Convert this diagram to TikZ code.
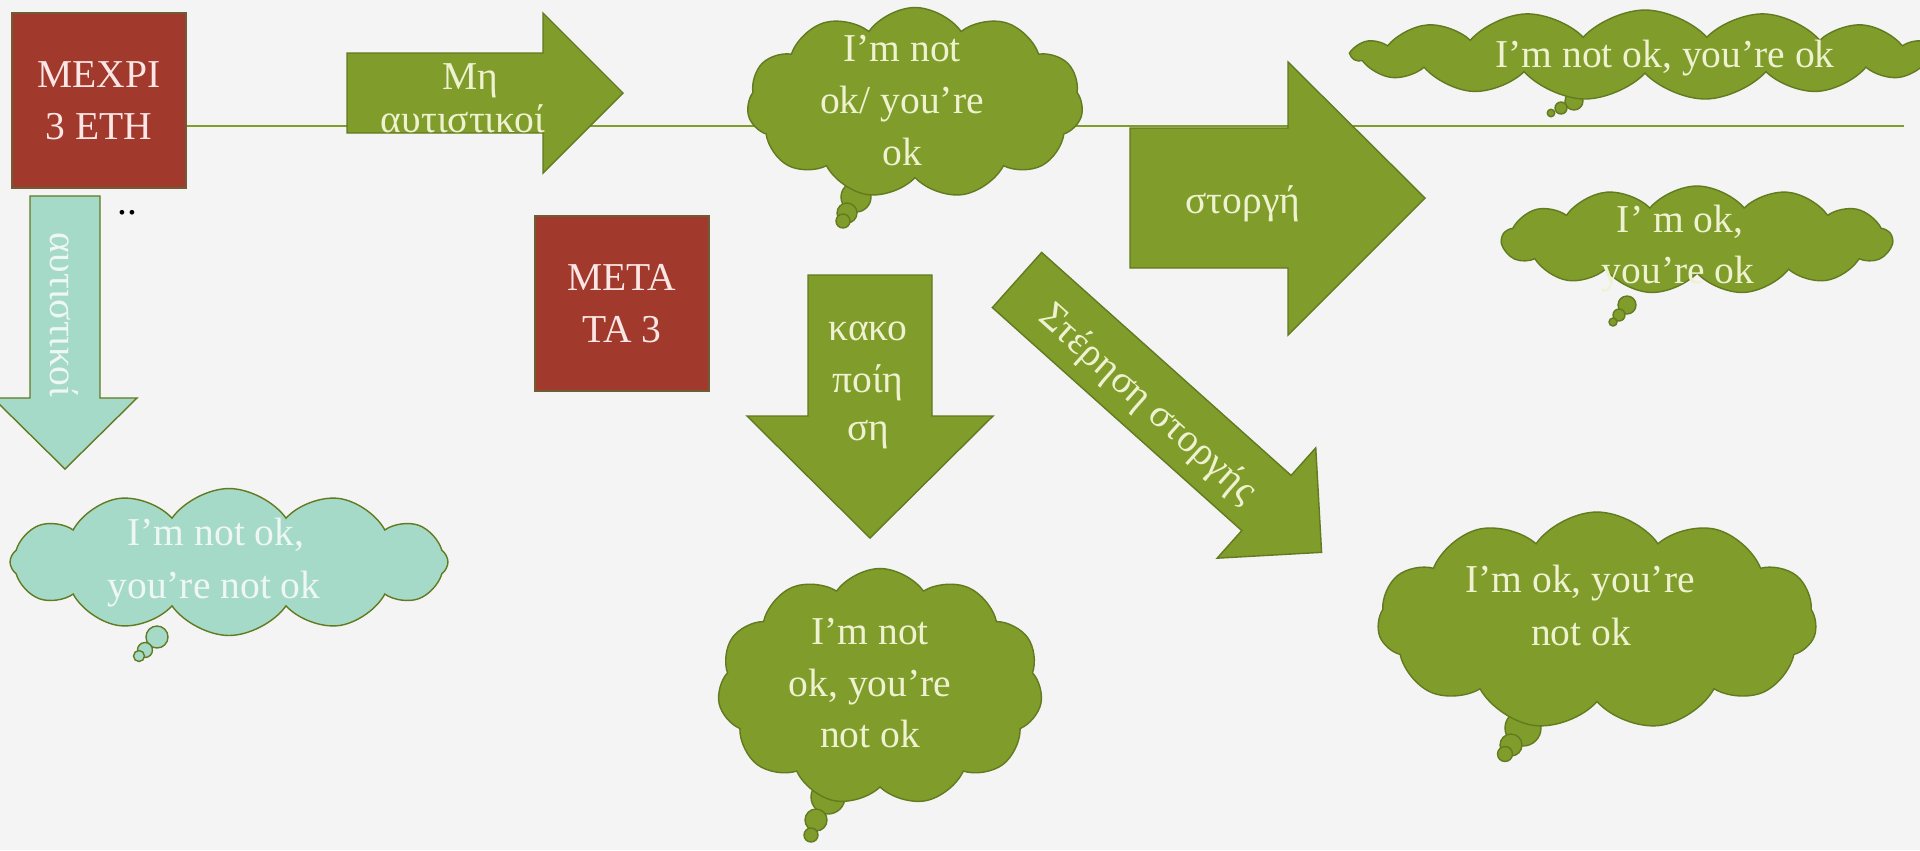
\documentclass[tikz,border=0pt]{standalone}
\usepackage{fontspec}
\setmainfont{Liberation Serif}
\usetikzlibrary{shapes.symbols}
\definecolor{olivefill}{RGB}{128,156,42}
\definecolor{olivedraw}{RGB}{98,122,32}
\definecolor{redfill}{RGB}{162,57,45}
\definecolor{reddraw}{RGB}{112,92,52}
\definecolor{tealfill}{RGB}{166,218,200}
\definecolor{bgcol}{RGB}{244,244,244}
\definecolor{paletext}{RGB}{238,242,208}
\definecolor{pinktext}{RGB}{250,230,228}
\definecolor{tealtext}{RGB}{238,247,243}
\begin{document}
\begin{tikzpicture}[x=0.02cm,y=-0.02cm,
  txt/.style={font=\fontsize{22.5}{29.5}\selectfont, align=center, inner sep=0pt},
  ln/.style={txt, anchor=base, text=paletext},
  redbox/.style={draw=reddraw, fill=redfill, line width=0.8pt, minimum width=3.48cm, minimum height=3.5cm, text=pinktext, txt},
  olivearrow/.style={fill=olivefill, draw=olivedraw, line width=0.8pt},
  tealarrow/.style={fill=tealfill, draw=olivedraw, line width=0.8pt},
  cloudshape/.style={cloud, cloud ignores aspect, cloud puffs=11, cloud puff arc=110, fill=olivefill, draw=olivedraw, line width=0.8pt, inner sep=0pt},
  bubble/.style={circle, fill=olivefill, draw=olivedraw, line width=0.8pt, inner sep=0pt, minimum size=#1},
]
\useasboundingbox (0,0) rectangle (1920,850);
\fill[bgcol] (0,0) rectangle (1920,850);

% horizontal rule
\coordinate (linestart) at (186,126);
\coordinate (lineend) at (1904,126);
\draw[olivefill, line width=1.5pt] (linestart) -- (lineend);

% red boxes
\node[redbox] (mexpi) at (99,100.5) {ΜΕΧΡΙ\\3 ΕΤΗ};
\node[redbox] (meta) at (622,303.5) {ΜΕΤΑ\\ΤΑ 3};

% teal arrow down
\path[tealarrow] (30,196) -- (100,196) -- (100,398) -- (137,398) -- (65,469) -- (-7,398) -- (30,398) -- cycle;
\node[txt, text=tealtext, rotate=-90] (aut) at (64,315) {αυτιστικοί};
\node[txt, anchor=base, text=black] (dots) at (127,214) {..};

% Mη arrow
\path[olivearrow] (347,53) -- (543,53) -- (543,13) -- (623,93) -- (543,173) -- (543,133) -- (347,133) -- cycle;
\node[ln] (mh1) at (470,89) {Μη};
\node[ln] (mh2) at (463,132) {αυτιστικοί};

% στοργή arrow
\path[olivearrow] (1130,128) -- (1288,128) -- (1288,62) -- (1425,198) -- (1288,335) -- (1288,268) -- (1130,268) -- cycle;
\node[ln] (storgi) at (1243,213) {στοργή};

% κακοποίηση arrow
\path[olivearrow] (808,275) -- (932,275) -- (932,416) -- (993,416) -- (870,538) -- (747,416) -- (808,416) -- cycle;
\node[ln] (kak1) at (868,340) {κακο};
\node[ln] (kak2) at (868,392) {ποίη};
\node[ln] (kak3) at (868,440) {ση};

% diagonal arrow
\begin{scope}[shift={(1017,280)}, rotate=-41.8]
\path[olivearrow] (0,-37) -- (334.6,-37) -- (334.6,-74) -- (408.6,0) -- (334.6,74) -- (334.6,37) -- (0,37) -- cycle;
\end{scope}
\node[txt, text=paletext, rotate=-41.8] (steri) at (1147,405) {Στέρηση στοργής};

% teal cloud
\node[bubble=0.44cm, fill=tealfill] (t1) at (157,637) {};
\node[bubble=0.3cm, fill=tealfill] (t2) at (145,650) {};
\node[bubble=0.22cm, fill=tealfill] (t3) at (139,656) {};
\node[cloudshape, cloud puffs=12, fill=tealfill, minimum width=8.76cm, minimum height=2.94cm] (tc) at (229,562) {};
\node[ln, text=tealtext] (tc1) at (216,545) {I’m not ok,};
\node[ln, text=tealtext] (tc2) at (214,598) {you’re not ok};

% cloud 1
\node[bubble=0.6cm] (a1) at (856,197) {};
\node[bubble=0.4cm] (a2) at (847,213) {};
\node[bubble=0.28cm] (a3) at (843,221) {};
\node[cloudshape, minimum width=6.72cm, minimum height=3.82cm] (c1) at (915,103) {};
\node[ln] (c1a) at (902,61) {I’m not};
\node[ln] (c1b) at (902,113) {ok/ you’re};
\node[ln] (c1c) at (902,165) {ok};

% cloud 2 (top right)
\node[bubble=0.36cm] (b1) at (1574,101) {};
\node[bubble=0.24cm] (b2) at (1561,108) {};
\node[bubble=0.15cm] (b3) at (1551,113) {};
\node[cloudshape, cloud puffs=15, cloud puff arc=95, minimum width=11.7cm, minimum height=1.8cm] (c2) at (1645,55) {};
\node[ln] (c2a) at (1665,67) {I’m not ok, you’re ok};

% cloud 3
\node[bubble=0.36cm] (d1) at (1627,305) {};
\node[bubble=0.24cm] (d2) at (1619,315) {};
\node[bubble=0.16cm] (d3) at (1613,322) {};
\node[cloudshape, cloud puffs=13, cloud puff arc=100, minimum width=7.8cm, minimum height=2.16cm] (c3) at (1697,240) {};
\node[ln] (c3a) at (1680,232) {I’ m ok,};
\node[ln] (c3b) at (1678,283) {you’re ok};

% cloud 4 (bottom middle)
\node[bubble=0.68cm] (e1) at (828,797) {};
\node[bubble=0.44cm] (e2) at (816,820) {};
\node[bubble=0.28cm] (e3) at (811,835) {};
\node[cloudshape, minimum width=6.5cm, minimum height=4.74cm] (c4) at (880,687) {};
\node[ln] (c4a) at (870,644) {I’m not};
\node[ln] (c4b) at (870,696) {ok, you’re};
\node[ln] (c4c) at (870,747) {not ok};

% cloud 5 (bottom right)
\node[bubble=0.72cm] (f1) at (1523,728) {};
\node[bubble=0.44cm] (f2) at (1511,745) {};
\node[bubble=0.3cm] (f3) at (1505,754) {};
\node[cloudshape, minimum width=8.78cm, minimum height=4.36cm] (c5) at (1597,621) {};
\node[ln] (c5a) at (1580,592) {I’m ok, you’re};
\node[ln] (c5b) at (1581,645) {not ok};
\end{tikzpicture}
\end{document}
